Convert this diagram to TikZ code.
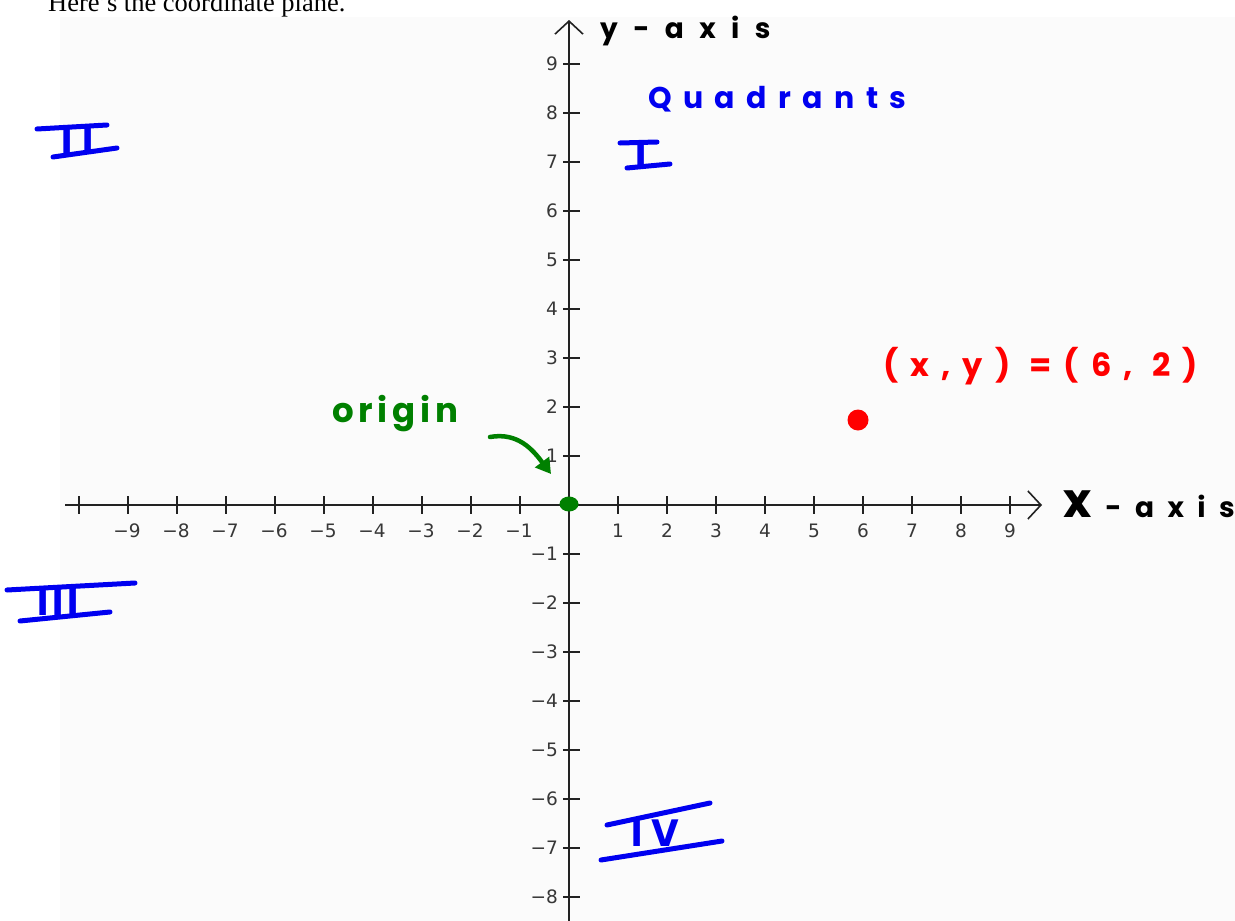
\documentclass[tikz,border=0pt]{standalone}
\usepackage{fontspec}
\setmainfont{Liberation Serif}
\newfontfamily\hand{Poppins}
\newfontfamily\tickfont{DejaVu Sans}
\usetikzlibrary{arrows.meta,shapes.geometric}
\definecolor{hblue}{RGB}{0,0,240}
\definecolor{hgreen}{RGB}{0,128,0}
\definecolor{hred}{RGB}{255,0,0}
\definecolor{axisc}{RGB}{34,34,34}
\definecolor{tickc}{RGB}{55,55,55}
\definecolor{paper}{RGB}{251,251,251}
\begin{document}
\begin{tikzpicture}[x=1pt,y=-1pt,
  axis/.style={draw=axisc,line width=1.6pt},
  tickmark/.style={draw=axisc,line width=1.6pt},
  xlab/.style={inner sep=0pt,text=tickc,font=\tickfont\fontsize{18.5}{18.5}\selectfont},
  ylab/.style={inner sep=0pt,anchor=east,text=tickc,font=\tickfont\fontsize{18.5}{18.5}\selectfont},
  hw/.style={inner sep=0pt,anchor=base west},
  bar/.style={draw=hblue,line width=5pt,line cap=round},
  numeral/.style={inner sep=0pt,text=hblue,font=\hand\bfseries\fontsize{38}{38}\selectfont},
  barb/.style={-{Straight Barb[length=13pt,width=28pt]}}
]
\useasboundingbox (0,0) rectangle (1235,921);
\fill[paper] (60,17) rectangle (1235,921);

% title
\node[anchor=base west,inner sep=0pt,font=\fontsize{26.5}{30}\selectfont] (title) at (48,11) {Here's the coordinate plane.};

% axes
\coordinate (xL) at (65,505);
\coordinate (xR) at (1042,505);
\coordinate (yB) at (569,930);
\coordinate (yT) at (569,20);
\draw[axis,barb] (xL) -- (xR);
\draw[axis,barb] (yB) -- (yT);

% ticks
\foreach \i in {-10,...,-1,1,2,...,9} {
  \draw[tickmark] ({569+49*\i},496) -- ++(0,18);
}
\foreach \i in {-8,...,-1,1,2,...,9} {
  \draw[tickmark] (563,{505-49*\i}) -- ++(17,0);
}
% tick labels
\foreach \i in {1,...,9} {
  \node[xlab] (xp\i) at ({569+49*\i},531) {\i};
  \node[xlab] (xm\i) at ({568-49*\i},531) {−\i};
  \node[ylab] (yp\i) at (558,{505-49*\i}) {\i};
}
\foreach \i in {1,...,8} {
  \node[ylab] (ym\i) at (558,{505+49*\i}) {−\i};
}

% axis labels
\node[hw] (ylabel) at (600,38) {\hand\bfseries\fontsize{28}{28}\selectfont\addfontfeature{LetterSpace=55}y-axis};
\node[hw] (xlabel) at (1063,517) {\hand\bfseries{\fontsize{48}{48}\selectfont x}\kern14pt{\fontsize{28}{28}\selectfont\addfontfeature{LetterSpace=48}-axis}};

% Quadrants
\node[hw,text=hblue] (quad) at (648,108) {\hand\bfseries\fontsize{30}{30}\selectfont\addfontfeature{LetterSpace=38}Quadrants};

% numerals
\node[numeral] (q1) at (641,155) {I};
\draw[bar] (620,143) -- (657,142);
\draw[bar] (627,168) -- (670,164);

\node[numeral] (q2) at (78,141) {I\kern10pt I};
\draw[bar] (37,129) -- (107,125);
\draw[bar] (53,157) -- (117,148);

\node[numeral] (q3) at (58,602) {I\kern4pt I\kern4pt I};
\draw[bar] (7,590) -- (135,583);
\draw[bar] (20,621) -- (110,612);

\node[numeral] (q4) at (655,833) {I\kern9pt V};
\draw[bar] (607,825) -- (710,803);
\draw[bar] (601,860) -- (722,841);

% origin
\node[hw,text=hgreen] (origintxt) at (332,422) {\hand\bfseries\fontsize{34}{34}\selectfont\addfontfeature{LetterSpace=14}origin};
\node[ellipse,fill=hgreen,inner sep=0pt,minimum width=19pt,minimum height=15pt] (orig) at (569,504) {};
\coordinate (arrS) at (490,437);
\coordinate (arrE) at (551,474);
\draw[hgreen,line width=4.5pt,line cap=round,-{Triangle[length=15pt,width=17pt]}] (arrS) .. controls (518,432) and (533,450) .. (arrE);

% point
\node[circle,fill=hred,inner sep=0pt,minimum size=21pt] (pt) at (858,420) {};
\node[hw,text=hred] (ptlabel) at (883,376) {\hand\bfseries\fontsize{32}{32}\selectfont\addfontfeature{LetterSpace=38}(x,y) =(6, 2)};
\end{tikzpicture}
\end{document}
